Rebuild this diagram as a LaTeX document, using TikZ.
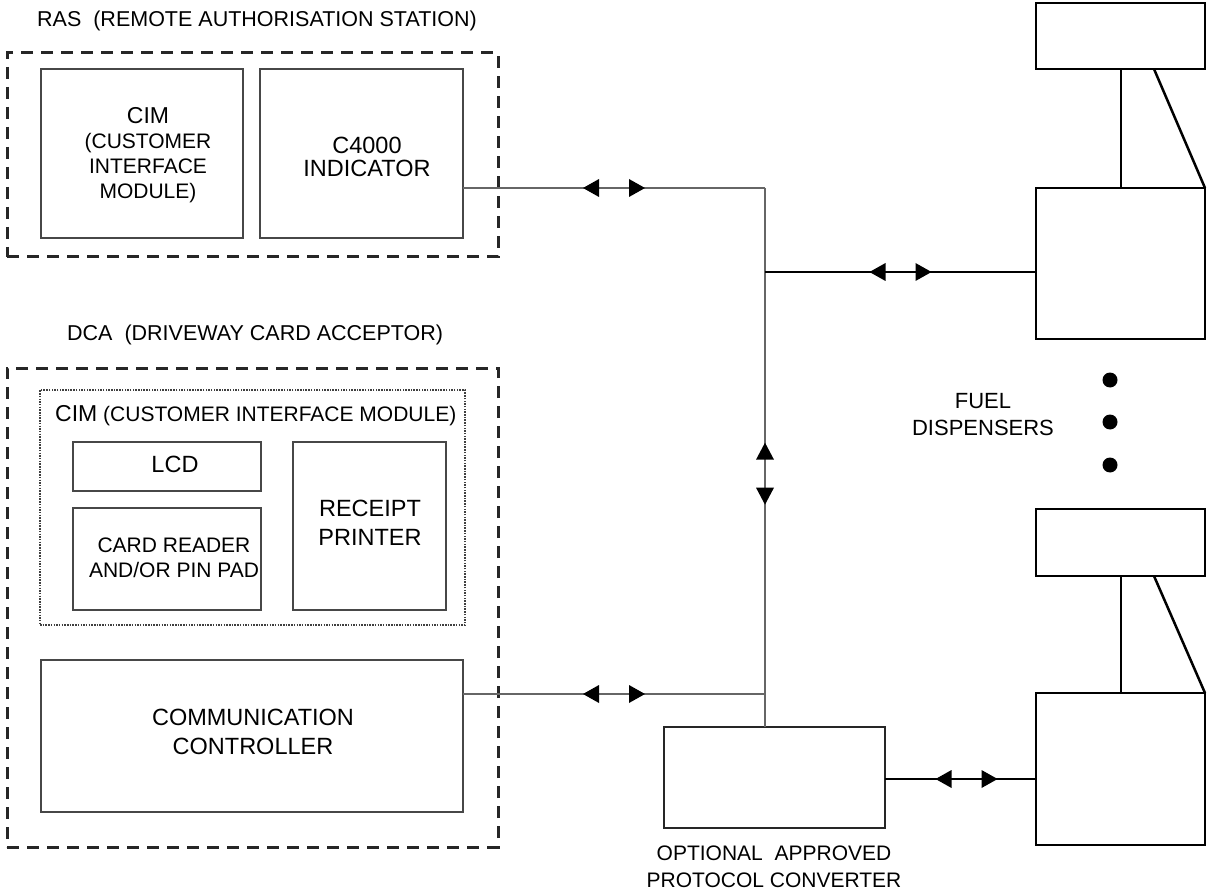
\documentclass[tikz,border=0pt]{standalone}
\usepackage{fontspec}
\setmainfont{Liberation Sans}
\begin{document}
\begin{tikzpicture}[x=1pt,y=-1pt,
  outerbox/.style={draw=black!85, line width=3pt, dash pattern=on 12pt off 8pt, inner sep=0pt, outer sep=0pt},
  dotbox/.style={draw=black!75, line width=2.4pt, dash pattern=on 1.5pt off 1.2pt, inner sep=0pt, outer sep=0pt},
  box/.style={draw=black!72, line width=2.6pt, inner sep=0pt, outer sep=0pt},
  dispbox/.style={draw=black, line width=2.9pt, inner sep=0pt, outer sep=0pt},
  conn/.style={draw=black!60, line width=2.6pt},
  dconn/.style={draw=black, line width=1.9pt},
  dline/.style={draw=black, line width=2.5pt},
  txt/.style={inner sep=0pt, align=center, font=\fontsize{21}{25}\selectfont},
  bigtxt/.style={inner sep=0pt, align=center, font=\fontsize{23.5}{29}\selectfont},
  pics/harr/.style={code={
    \fill[black] (-31,0) -- (-15,-9) -- (-15,9) -- cycle;
    \fill[black] (31,0) -- (15,-9) -- (15,9) -- cycle;}},
  pics/varr/.style={code={
    \fill[black] (0,-31) -- (-9,-14) -- (9,-14) -- cycle;
    \fill[black] (0,31) -- (-9,14) -- (9,14) -- cycle;}}
]
\useasboundingbox (0,0) rectangle (1208,896);
\fill[white] (0,0) rectangle (1208,896);

% ---------- RAS ----------
\node[txt, anchor=west, font=\fontsize{21.5}{25}\selectfont] (rashead) at (37,21) {RAS\ \ (REMOTE AUTHORISATION STATION)};
\node[outerbox, minimum width=491pt, minimum height=204pt] (ras) at (252.5,155) {};
\node[box, minimum width=202pt, minimum height=169pt] (rascim) at (142,153.5) {};
\node[box, minimum width=203pt, minimum height=169pt] (c4000) at (361.5,153.5) {};
\node[txt] (rascimtxt) at (148,155) {{\fontsize{23}{25}\selectfont CIM}\\(CUSTOMER\\INTERFACE\\MODULE)};
\node[bigtxt, font=\fontsize{23.5}{23}\selectfont] (c4000txt) at (367,157) {C4000\\INDICATOR};

% ---------- DCA ----------
\node[txt, anchor=west, font=\fontsize{21.5}{25}\selectfont] (dcahead) at (67,335) {DCA\ \ (DRIVEWAY CARD ACCEPTOR)};
\node[outerbox, minimum width=491pt, minimum height=479pt] (dca) at (252.5,607.5) {};
\node[dotbox, minimum width=425pt, minimum height=235pt] (dcacim) at (252.5,507.5) {};
\node[txt, anchor=west] (dcacimtxt) at (55,416) {{\fontsize{23}{25}\selectfont CIM} (CUSTOMER INTERFACE MODULE)};
\node[box, minimum width=188pt, minimum height=49pt] (lcd) at (167,466.5) {};
\node[box, minimum width=188pt, minimum height=102pt] (card) at (167,559) {};
\node[box, minimum width=153pt, minimum height=168pt] (receipt) at (369.5,526) {};
\node[bigtxt] (lcdtxt) at (175,464) {LCD};
\node[txt] (cardtxt) at (174,558) {CARD READER\\AND/OR PIN PAD};
\node[bigtxt] (receipttxt) at (370,523) {RECEIPT\\PRINTER};
\node[box, minimum width=422pt, minimum height=152pt] (comm) at (252,736) {};
\node[bigtxt] (commtxt) at (253,732) {COMMUNICATION\\CONTROLLER};

% ---------- converter ----------
\node[box, draw=black!85, minimum width=221pt, minimum height=101pt] (conv) at (774.5,777.5) {};
\node[txt, font=\fontsize{21}{27}\selectfont] (convtxt) at (774,867) {OPTIONAL\ \ APPROVED\\PROTOCOL CONVERTER};

% ---------- dispensers ----------
\node[dispbox, minimum width=169pt, minimum height=66pt] (d1t) at (1120.5,36) {};
\node[dispbox, minimum width=169pt, minimum height=151pt] (d1b) at (1120.5,263.5) {};
\node[dispbox, minimum width=169pt, minimum height=67pt] (d2t) at (1120.5,542.5) {};
\node[dispbox, minimum width=169pt, minimum height=152pt] (d2b) at (1120.5,769) {};
\coordinate (d1v) at (1121,69);
\coordinate (d1s) at (1154,69);
\coordinate (d2v) at (1121,576);
\coordinate (d2s) at (1154,576);
\draw[dline] (d1v) -- (d1v |- d1b.north);
\draw[dline] (d1s) -- (d1b.north east);
\draw[dline] (d2v) -- (d2v |- d2b.north);
\draw[dline] (d2s) -- (d2b.north east);
\node[txt, font=\fontsize{22}{27}\selectfont] (fueltxt) at (983,415) {FUEL\\DISPENSERS};
\fill[black] (1110,380) circle (7.5) (1110,422) circle (7.5) (1110,465) circle (7.5);

% ---------- connectors ----------
\coordinate (j1) at (765,188);
\coordinate (j2) at (765,272);
\coordinate (j3) at (765,694);
\draw[conn] (c4000.east |- j1) -- (j1) coordinate[pos=0.5] (m1);
\draw[conn] (j1) -- (conv.north -| j1) coordinate[pos=0.53] (mv);
\draw[dconn] (j2) -- (d1b.west |- j2) coordinate[pos=0.5] (m2);
\draw[conn] (comm.east |- j3) -- (j3) coordinate[pos=0.5] (m3);
\coordinate (j4) at (885,779);
\draw[dconn] (conv.east |- j4) -- (d2b.west |- j4) coordinate[pos=0.54] (m4);
\pic at (m1) {harr};
\pic at (m2) {harr};
\pic at (m3) {harr};
\pic at (m4) {harr};
\pic at (mv) {varr};
\end{tikzpicture}
\end{document}
